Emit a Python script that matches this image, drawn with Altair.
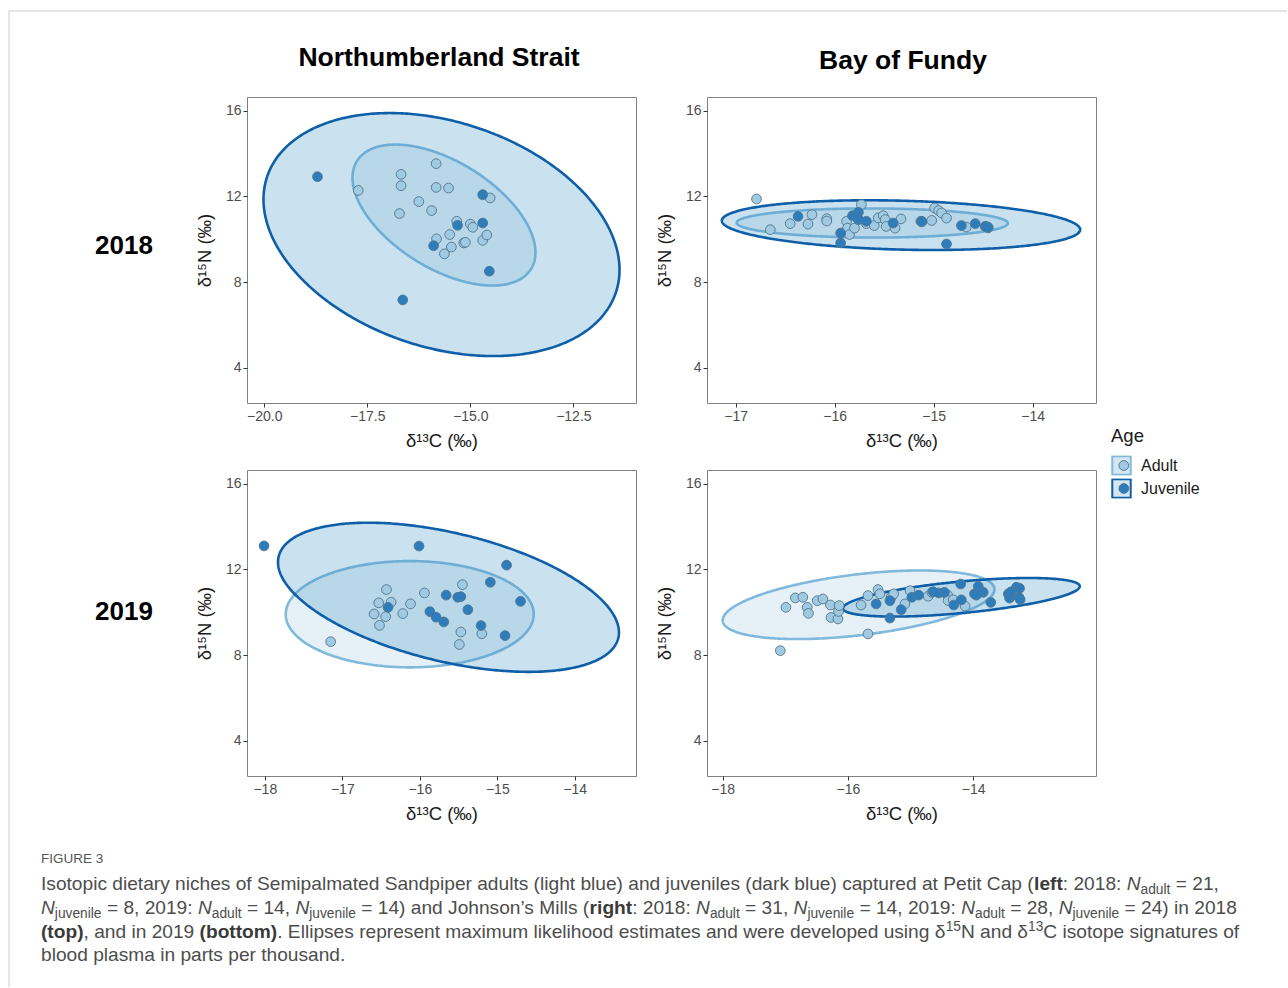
import altair as alt
import numpy as np
import pandas as pd

AGES = ["Adult", "Juvenile"]

# ---------------- data ----------------
# Northumberland Strait 2018
ns18_adult_x = [-17.72, -16.68, -16.68, -16.72, -16.25, -15.94, -15.83, -15.83, -15.53, -14.52, -15.33,
                -15.00, -14.94, -15.82, -15.50, -15.46, -15.63, -15.16, -15.12, -14.70, -14.60]
ns18_adult_y = [12.28, 13.03, 12.50, 11.20, 11.76, 11.34, 13.53, 12.42, 12.39, 11.93, 10.84,
                10.71, 10.56, 10.02, 10.22, 9.64, 9.32, 9.83, 9.86, 9.95, 10.20]
ns18_juv_x = [-18.71, -16.64, -14.70, -14.70, -15.31, -15.89, -14.54]
ns18_juv_y = [12.92, 7.17, 12.08, 10.76, 10.65, 9.70, 8.51]

# Bay of Fundy 2018
bf18_adult_x = [-16.79, -16.65, -16.45, -16.23, -16.27, -16.08, -16.08, -15.88, -15.87, -15.85, -15.80,
                -15.73, -15.76, -15.68, -15.60, -15.56, -15.51, -15.49, -15.48, -15.39, -15.33, -15.13,
                -15.12, -15.02, -14.99, -14.95, -14.92, -14.87, -14.67, -14.47, -14.45]
bf18_adult_y = [11.88, 10.45, 10.73, 11.15, 10.71, 10.96, 10.85, 10.84, 10.52, 10.22, 10.52,
                11.62, 10.92, 10.73, 10.64, 11.00, 11.10, 10.92, 10.60, 10.52, 10.95, 10.84,
                10.81, 10.88, 11.46, 11.34, 11.23, 10.99, 10.57, 10.60, 10.53]
bf18_juv_x = [-16.37, -15.94, -15.94, -15.82, -15.76, -15.68, -15.41, -15.12, -14.87, -14.72, -14.58,
              -14.48, -14.45, -15.76]
bf18_juv_y = [11.07, 10.29, 9.83, 11.10, 11.26, 10.84, 10.76, 10.84, 9.78, 10.64, 10.73,
              10.60, 10.56, 10.93]

# Northumberland Strait 2019
ns19_adult_x = [-17.15, -16.59, -16.52, -16.44, -16.53, -16.43, -16.37, -16.22, -16.12, -15.94, -15.45,
                -15.47, -15.49, -15.20]
ns19_adult_y = [8.63, 9.92, 9.39, 9.80, 10.44, 11.06, 10.47, 9.94, 10.39, 10.90, 11.29,
                9.08, 8.50, 9.00]
ns19_juv_x = [-18.01, -16.01, -14.88, -15.09, -14.70, -16.41, -15.66, -15.51, -15.47, -15.38, -15.87,
              -15.79, -15.69, -15.21, -14.90]
ns19_juv_y = [13.10, 13.09, 12.20, 11.40, 10.51, 10.23, 10.80, 10.70, 10.73, 10.12, 10.03,
              9.77, 9.55, 9.38, 8.91]

# Bay of Fundy 2019
bf19_adult_x = [-17.08, -16.99, -16.84, -16.72, -16.65, -16.63, -16.49, -16.40, -16.28, -16.27, -16.16,
                -16.15, -16.14, -15.79, -15.68, -15.68, -15.52, -15.49, -15.31, -15.27, -15.09, -15.01,
                -14.72, -14.66, -14.41, -14.40, -14.32, -14.13]
bf19_adult_y = [8.21, 10.23, 10.67, 10.70, 10.23, 9.95, 10.54, 10.62, 10.34, 9.76, 9.69,
                10.04, 10.31, 10.34, 8.99, 10.78, 11.06, 10.86, 10.70, 10.86, 10.39, 11.01,
                10.75, 10.93, 10.81, 10.55, 10.58, 10.29]
bf19_juv_x = [-15.55, -15.33, -15.33, -15.15, -14.98, -14.64, -14.46, -14.31, -14.19, -14.20, -13.98,
              -13.92, -13.84, -13.72, -13.44, -13.42, -13.31, -13.26, -13.27, -13.25, -14.87, -14.55,
              -13.95, -13.40]
bf19_juv_y = [10.39, 10.54, 9.73, 10.12, 10.70, 10.96, 10.93, 10.34, 10.58, 11.32, 10.86,
              11.21, 10.93, 10.46, 10.86, 10.66, 11.17, 11.12, 10.70, 10.59, 10.80, 10.90,
              10.80, 10.95]

# ellipses: centre x, centre y, half-width (x), half-height (y), correlation
ell_ns18_adult = [-15.64, 11.13, 2.22, 3.29, -0.53]
ell_ns18_juv = [-15.70, 10.22, 4.32, 5.67, -0.29]
ell_bf18_adult = [-15.62, 10.76, 1.37, 0.68, -0.02]
ell_bf18_juv = [-15.33, 10.66, 1.81, 1.16, -0.18]
ell_ns19_adult = [-16.13, 9.91, 1.60, 2.48, 0.0]
ell_ns19_juv = [-15.63, 10.70, 2.20, 3.48, -0.47]
ell_bf19_adult = [-15.83, 10.35, 2.17, 1.60, 0.45]
ell_bf19_juv = [-14.19, 10.70, 1.89, 0.90, 0.57]

# axes
xdom_ns18 = [-20.42, -10.98]
xticks_ns18 = [-20.0, -17.5, -15.0, -12.5]
xdom_bf18 = [-17.29, -13.36]
xticks_bf18 = [-17, -16, -15, -14]
xdom_ns19 = [-18.23, -13.21]
xticks_ns19 = [-18, -17, -16, -15, -14]
xdom_bf19 = [-18.25, -12.04]
xticks_bf19 = [-18, -16, -14]
y_domain = [2.36, 16.64]
y_ticks = [4, 8, 12, 16]

X_TITLE = "δ¹³C (‰)"
Y_TITLE = "δ¹⁵N (‰)"
COL_TITLES = ["Northumberland Strait", "Bay of Fundy"]
ROW_TITLES = ["2018", "2019"]

# caption text, split where the style changes (r regular, b bold, i italic, sub, sup)
CAPTION_LINES = [
    [("Isotopic dietary niches of Semipalmated Sandpiper adults (light blue) and juveniles (dark blue) captured at Petit Cap (", "r"),
     ("left", "b"), (": 2018: ", "r"), ("N", "i"), ("adult", "sub"), (" = 21,", "r")],
    [("N", "i"), ("juvenile", "sub"), (" = 8, 2019: ", "r"), ("N", "i"), ("adult", "sub"), (" = 14, ", "r"),
     ("N", "i"), ("juvenile", "sub"), (" = 14) and Johnson’s Mills (", "r"), ("right", "b"), (": 2018: ", "r"),
     ("N", "i"), ("adult", "sub"), (" = 31, ", "r"), ("N", "i"), ("juvenile", "sub"), (" = 14, 2019: ", "r"),
     ("N", "i"), ("adult", "sub"), (" = 28, ", "r"), ("N", "i"), ("juvenile", "sub"), (" = 24) in 2018", "r")],
    [("(top)", "b"), (", and in 2019 ", "r"), ("(bottom)", "b"),
     (". Ellipses represent maximum likelihood estimates and were developed using δ", "r"), ("15", "sup"),
     ("N and δ", "r"), ("13", "sup"), ("C isotope signatures of", "r")],
    [("blood plasma in parts per thousand.", "r")],
]

# ---------------- styles / layout ----------------
FONT = "Liberation Sans"
PT_COLORS = ["#9fcae2", "#2d7dbd"]
PT_STROKE = "#52758c"
ELL_FILL = ["rgba(158,202,225,0.26)", "rgba(66,146,198,0.28)"]
ELL_STROKE = ["#80b9db", "#0f5fa8"]
W, H = 389, 306
DUMMY = pd.DataFrame({"d": [0]})

# Liberation Sans shares Arial's advance widths (1/1000 em) - used to flow caption segments
_REG = {' ': 278, '(': 333, ')': 333, ',': 278, '-': 333, '.': 278, ':': 278, '=': 584, '’': 222,
        'δ': 556, 'A': 667, 'B': 667, 'C': 722, 'D': 722, 'E': 667, 'F': 611, 'G': 778, 'H': 722,
        'I': 278, 'J': 500, 'K': 667, 'L': 556, 'M': 833, 'N': 722, 'O': 778, 'P': 667, 'R': 722,
        'S': 667, 'T': 611, 'U': 722, 'a': 556, 'b': 556, 'c': 500, 'd': 556, 'e': 556, 'f': 278,
        'g': 556, 'h': 556, 'i': 222, 'j': 222, 'k': 500, 'l': 222, 'm': 833, 'n': 556, 'o': 556,
        'p': 556, 'q': 556, 'r': 333, 's': 500, 't': 278, 'u': 556, 'v': 500, 'w': 722, 'x': 500,
        'y': 500, 'z': 500}
_BOLD = {'(': 333, ')': 333, 'b': 611, 'e': 556, 'f': 333, 'g': 611, 'h': 611, 'i': 278, 'l': 278,
         'm': 889, 'o': 611, 'p': 611, 'r': 389, 't': 333}
SUB_SCALE = 0.72


def seg_width(txt, kind, size):
    if kind == "b":
        em = sum(_BOLD.get(c, _REG.get(c, 556)) for c in txt)
    else:
        em = sum(_REG.get(c, 556) for c in txt)
    s = size * SUB_SCALE if kind in ("sub", "sup") else size
    return em / 1000.0 * s


CAP_LEFT = 40
CAP_RIGHT = [1213, 1250, 1229]          # where the first three caption lines end
_ratios = [(CAP_RIGHT[i] - CAP_LEFT) / sum(seg_width(t, k, 1.0) for t, k in CAPTION_LINES[i]) for i in range(3)]
CAP_SIZE = min(19.5, max(17.0, sum(_ratios) / len(_ratios)))
LINE_BASE = [889, 913, 937, 960]
CAP_COLOR = "#4d4d4d"


def ellipse_frame(params):
    t = np.linspace(0, np.pi, 241)
    frames = []
    for age, (cx, cy, a, b, rho) in params.items():
        phi = np.arccos(rho)
        frames.append(pd.DataFrame({
            "Age": age,
            "ex": cx + a * np.cos(t),
            "ey": cy + b * np.cos(t - phi),
            "ey2": cy + b * np.cos(t + phi),
        }))
    return pd.concat(frames, ignore_index=True)


def text_layer(txt, x, y, size, weight="normal", style="normal", align="left",
               color="#000000", baseline="alphabetic"):
    kw = dict(font=FONT, fontSize=size, fontWeight=weight, fontStyle=style,
              align=align, baseline=baseline, color=color)
    return alt.Chart(DUMMY).mark_text(**kw).encode(
        x=alt.value(x), y=alt.value(y), text=alt.value(txt))


def panel(ax, ay, jx, jy, e_ad, e_jv, xdom, xticks, xfmt, legend=False, extras=()):
    pts = pd.DataFrame({"x": ax + jx, "y": ay + jy,
                        "Age": ["Adult"] * len(ax) + ["Juvenile"] * len(jx)})
    ell = ellipse_frame({"Adult": e_ad, "Juvenile": e_jv})
    xs = alt.Scale(domain=xdom, nice=False, zero=False)
    ys = alt.Scale(domain=y_domain, nice=False, zero=False)
    xax = alt.Axis(values=xticks, format=xfmt, title=X_TITLE)
    yax = alt.Axis(values=y_ticks, format="d", title=Y_TITLE)

    if legend:
        common = dict(title="Age", orient="none", legendX=404, legendY=330, clipHeight=20,
                      rowPadding=3, labelOffset=9, titlePadding=10, titleFont=FONT,
                      titleFontSize=18.5, titleFontWeight="normal", titleColor="#1a1a1a",
                      labelFont=FONT, labelFontSize=16, labelColor="#1a1a1a")
        sq_leg = alt.Legend(symbolType="square", symbolSize=340, symbolStrokeWidth=2,
                            symbolFillColor="#d3e6f2", zindex=1, **common)
        ci_leg = alt.Legend(symbolType="circle", symbolSize=95, symbolStrokeWidth=1,
                            symbolOffset=4.85, titleOpacity=0, labelOpacity=0, zindex=2, **common)
    else:
        sq_leg = None
        ci_leg = None

    ellipses = alt.Chart(ell).mark_area(strokeWidth=2.6, interpolate="linear").encode(
        x=alt.X("ex:Q", scale=xs, axis=xax),
        y=alt.Y("ey:Q", scale=ys, axis=yax),
        y2="ey2:Q",
        fill=alt.Fill("Age:N", scale=alt.Scale(range=ELL_FILL), legend=None),
        stroke=alt.Stroke("Age:N", scale=alt.Scale(range=ELL_STROKE), legend=sq_leg),
    )
    points = alt.Chart(pts).mark_circle(size=95, opacity=1, stroke=PT_STROKE, strokeWidth=0.9).encode(
        x=alt.X("x:Q", scale=xs, axis=xax),
        y=alt.Y("y:Q", scale=ys, axis=yax),
        color=alt.Color("Age:N", scale=alt.Scale(range=PT_COLORS), legend=ci_leg),
    )
    return alt.layer(ellipses, points, *extras).properties(width=W, height=H)


# panel origins in page pixels: P1 (246,96) P2 (706,96) P3 (246,469) P4 (706,469)
frame_layers = [
    alt.Chart(DUMMY).mark_rule(color="#cccccc", strokeWidth=1).encode(
        x=alt.value(-238), x2=alt.value(1040), y=alt.value(-86)),
    alt.Chart(DUMMY).mark_rule(color="#cccccc", strokeWidth=1).encode(
        x=alt.value(-238), y=alt.value(-86), y2=alt.value(890)),
]

p1_extra = frame_layers + [
    text_layer(COL_TITLES[0], 192, -31, 26.5, weight="bold", align="center"),
    text_layer(ROW_TITLES[0], -123, 157, 26, weight="bold", align="center"),
]
p2_extra = [text_layer(COL_TITLES[1], 196, -28, 26.5, weight="bold", align="center")]

p3_extra = [text_layer(ROW_TITLES[1], -123, 150, 26, weight="bold", align="center"),
            text_layer("FIGURE 3", CAP_LEFT - 246, 862 - 469, 13.5, color="#555555")]
for li, segs in enumerate(CAPTION_LINES):
    cursor = CAP_LEFT
    for txt, kind in segs:
        lead = len(txt) - len(txt.lstrip(" "))
        xs_ = cursor + seg_width(" " * lead, kind, CAP_SIZE)
        cursor += seg_width(txt, kind, CAP_SIZE)
        body = txt.strip(" ")
        xr = xs_ - 246
        yr = LINE_BASE[li] - 469
        if kind == "r":
            p3_extra.append(text_layer(body, xr, yr, CAP_SIZE, color=CAP_COLOR))
        elif kind == "b":
            p3_extra.append(text_layer(body, xr, yr, CAP_SIZE, weight="bold", color="#3a3a3a"))
        elif kind == "i":
            p3_extra.append(text_layer(body, xr, yr, CAP_SIZE, style="italic", color=CAP_COLOR))
        elif kind == "sub":
            p3_extra.append(text_layer(body, xr, yr + 4, CAP_SIZE * SUB_SCALE, color=CAP_COLOR))
        else:
            p3_extra.append(text_layer(body, xr, yr - 7, CAP_SIZE * SUB_SCALE, color=CAP_COLOR))

p1 = panel(ns18_adult_x, ns18_adult_y, ns18_juv_x, ns18_juv_y, ell_ns18_adult, ell_ns18_juv,
           xdom_ns18, xticks_ns18, ".1f", extras=p1_extra)
p2 = panel(bf18_adult_x, bf18_adult_y, bf18_juv_x, bf18_juv_y, ell_bf18_adult, ell_bf18_juv,
           xdom_bf18, xticks_bf18, "d", legend=True, extras=p2_extra)
p3 = panel(ns19_adult_x, ns19_adult_y, ns19_juv_x, ns19_juv_y, ell_ns19_adult, ell_ns19_juv,
           xdom_ns19, xticks_ns19, "d", extras=p3_extra)
p4 = panel(bf19_adult_x, bf19_adult_y, bf19_juv_x, bf19_juv_y, ell_bf19_adult, ell_bf19_juv,
           xdom_bf19, xticks_bf19, "d")

chart = alt.concat(p1, p2, p3, p4, columns=2, spacing={"row": 67, "column": 71}, bounds="flush").resolve_legend(
    color="independent", stroke="independent"
).properties(
    padding={"left": 8, "top": 10, "right": 0, "bottom": 0}
).configure(
    background="white", font=FONT
).configure_axis(
    labelFont=FONT, labelFontSize=14, labelColor="#4d4d4d", tickColor="#333333", tickSize=4,
    tickWidth=1, domain=False, grid=False, titleFont=FONT, titleFontSize=18.5,
    titleFontWeight="normal", titleColor="#1a1a1a", labelPadding=2
).configure_axisX(titlePadding=8).configure_axisY(titlePadding=11).configure_view(
    stroke="#808080", strokeWidth=1
)

chart.save("out.html", embed_options={"renderer": "svg", "actions": False})
